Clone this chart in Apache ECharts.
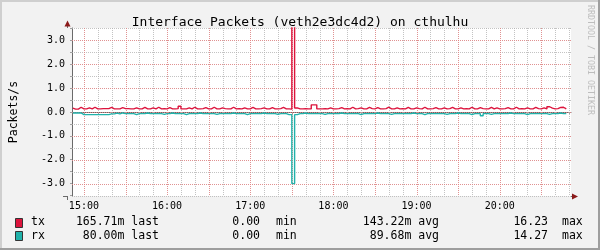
<!DOCTYPE html>
<html>
<head>
<meta charset="utf-8">
<script src="https://cdn.jsdelivr.net/npm/echarts@6/dist/echarts.min.js"></script>
<style>html,body{margin:0;padding:0;background:#F2F2F2;}#c{width:600px;height:250px;}</style>
</head>
<body>
<div id="c"></div>
<script>
// ---- data ----
const titleText = 'Interface Packets (veth2e3dc4d2) on cthulhu';
const yAxisTitle = 'Packets/s';
const sideText = 'RRDTOOL / TOBI OETIKER';
const sampleStart = 892;   // minutes after midnight of first sample (14:52)
const sampleStep = 2;      // minutes between samples
const txValues = [
 .16,.12,.12,.2,.13,.13,.17,.13,.2,.13,
 .13,.14,.14,.14,.19,.13,.13,.13,.18,.14,
 .14,.13,.13,.17,.13,.13,.19,.13,.13,.17,
 .13,.2,.13,.14,.13,.18,.13,.13,.14,.24,
 .13,.13,.17,.13,.2,.13,.13,.14,.18,.13,
 .13,.2,.13,.13,.17,.14,.13,.13,.2,.13,
 .14,.13,.17,.13,.13,.19,.13,.13,.14,.17,
 .13,.13,.18,.13,.13,.14,.19,.13,.13,.12,
 16.23,.17,.13,.13,.14,.13,.13,.3,.3,.13,
 .13,.14,.13,.17,.13,.13,.14,.18,.13,.14,
 .13,.2,.13,.14,.17,.13,.13,.19,.14,.13,
 .18,.13,.13,.14,.2,.13,.13,.17,.13,.14,
 .13,.19,.13,.13,.17,.14,.13,.2,.13,.13,
 .14,.18,.13,.13,.17,.13,.14,.19,.13,.13,
 .17,.13,.14,.13,.2,.13,.13,.18,.14,.13,
 .13,.19,.13,.17,.13,.13,.14,.18,.13,.13,
 .2,.13,.14,.13,.17,.13,.13,.19,.14,.13,
 .17,.13,.22,.16,.13,.14,.19,.2,.13
];
const rxValues = [
 .04,.04,.04,.04,.11,.11,.11,.11,.11,.11,
 .11,.11,.11,.11,.08,.08,.05,.08,.04,.07,
 .07,.07,.07,.11,.07,.07,.07,.04,.07,.07,
 .07,.07,.07,.1,.07,.07,.04,.07,.07,.07,
 .07,.11,.07,.07,.07,.07,.04,.07,.07,.07,
 .07,.07,.1,.07,.07,.07,.07,.07,.04,.07,
 .07,.07,.07,.11,.07,.07,.07,.07,.07,.04,
 .07,.07,.07,.07,.1,.07,.07,.07,.11,.11,
 3.0,.11,.07,.07,.04,.07,.07,.07,.07,.07,
 .07,.1,.07,.07,.07,.07,.07,.04,.07,.07,
 .07,.07,.07,.07,.11,.07,.07,.07,.07,.07,
 .04,.07,.07,.07,.07,.1,.07,.07,.07,.07,
 .07,.07,.07,.04,.07,.07,.07,.11,.07,.07,
 .07,.07,.07,.07,.07,.1,.07,.07,.07,.04,
 .07,.07,.07,.07,.11,.07,.07,.07,.16,.07,
 .07,.1,.07,.07,.07,.07,.07,.07,.04,.07,
 .07,.07,.07,.07,.11,.07,.07,.07,.07,.07,
 .07,.07,.1,.07,.07,.07,.04,.07,.07
];
const hourTicks = [900, 960, 1020, 1080, 1140, 1200];
const hourLabels = ['15:00','16:00','17:00','18:00','19:00','20:00'];
const minorGridX = [900,910,920,930,940,950,960,970,980,990,1000,1010,1020,1030,1040,1050,1060,1070,1080,1090,1100,1110,1120,1130,1140,1150,1160,1170,1180,1190,1200,1210,1220,1230,1240,1250];
const majorGridX = [900,930,960,990,1020,1050,1080,1110,1140,1170,1200,1230];
const minorGridY = [-3.5,-3,-2.5,-2,-1.5,-1,-0.5,0,0.5,1,1.5,2,2.5,3,3.5];
const majorGridY = [-3,-2,-1,0,1,2,3];
const yLabels = ['-3.0','-2.0','-1.0','0.0','1.0','2.0','3.0'];
const legendNames = ['tx','rx'];
const legendLast = ['165.71m','80.00m'];
const legendMin = ['0.00','0.00'];
const legendAvg = ['143.22m','89.68m'];
const legendMax = ['16.23','14.27'];
const colors = ['#DC143C','#20B2AA'];

// ---- build ----
const MONO = 'DejaVu Sans Mono';
const X0 = 891.4, X1 = 1251.4;
const txData = txValues.map((v, i) => [sampleStart + i * sampleStep, v]);
const rxData = rxValues.map((v, i) => [sampleStart + i * sampleStep, -v]);

const MINOR = 'rgba(175,175,175,0.75)';
const MAJOR = 'rgba(240,120,120,0.65)';

function vGrid(color) {
  return function (params, api) {
    const cs = params.coordSys;
    const x = Math.round(api.coord([api.value(0), 0])[0]) + 0.5;
    return { type: 'line', silent: true,
      shape: { x1: x, y1: cs.y, x2: x, y2: cs.y + cs.height },
      style: { stroke: color, lineWidth: 1, lineDash: [1, 1] } };
  };
}
function hGrid(color) {
  return function (params, api) {
    const cs = params.coordSys;
    const y = Math.round(api.coord([X0, api.value(1)])[1]) + 0.5;
    return { type: 'line', silent: true,
      shape: { x1: cs.x, y1: y, x2: cs.x + cs.width, y2: y },
      style: { stroke: color, lineWidth: 1, lineDash: [1, 1] } };
  };
}

const chart = echarts.init(document.getElementById('c'), null, { renderer: 'canvas' });

const legendGraphics = [];
const rowY = [222.5, 236];
const txtStyle = (t, x, y, align) => ({
  type: 'text', x: x, y: y, silent: true,
  style: { text: t, fill: '#000', font: '11.5px "' + MONO + '"', textAlign: align, textVerticalAlign: 'middle' }
});
legendNames.forEach((n, k) => {
  const y = rowY[k];
  legendGraphics.push({ type: 'rect', silent: true, shape: { x: 15.5, y: Math.round(y) - 4.5, width: 7, height: 9 },
    style: { fill: colors[k], stroke: '#333', lineWidth: 1 } });
  legendGraphics.push(txtStyle(n, 31, y, 'left'));
  legendGraphics.push(txtStyle(legendLast[k] + ' last', 159, y, 'right'));
  legendGraphics.push(txtStyle(legendMin[k], 260, y, 'right'));
  legendGraphics.push(txtStyle('min', 276, y, 'left'));
  legendGraphics.push(txtStyle(legendAvg[k] + ' avg', 439, y, 'right'));
  legendGraphics.push(txtStyle(legendMax[k], 548, y, 'right'));
  legendGraphics.push(txtStyle('max', 562, y, 'left'));
});

const option = {
  backgroundColor: '#F2F2F2',
  animation: false,
  title: {
    text: titleText, left: 'center', top: 11,
    textStyle: { fontFamily: MONO, fontSize: 13, fontWeight: 'normal', color: '#000' }
  },
  grid: { left: 67, right: 29, top: 28, bottom: 54, containLabel: false,
    show: true, backgroundColor: '#FFFFFF', borderWidth: 0 },
  xAxis: {
    type: 'value', min: X0, max: X1,
    splitLine: { show: false },
    axisLine: { show: true, lineStyle: { color: '#6A6A6A', width: 1 } },
    axisTick: { show: true, customValues: minorGridX, length: 2, lineStyle: { color: '#A0A0A0' } },
    axisLabel: {
      customValues: hourTicks, margin: 5,
      fontFamily: MONO, fontSize: 10, color: '#000',
      formatter: v => hourLabels[hourTicks.indexOf(v)] || ''
    }
  },
  yAxis: {
    type: 'value', min: -3.52, max: 3.52,
    name: yAxisTitle, nameLocation: 'middle', nameRotate: 90, nameGap: 52,
    nameTextStyle: { fontFamily: MONO, fontSize: 11.5, color: '#000' },
    splitLine: { show: false },
    axisLine: { show: true, lineStyle: { color: '#6A6A6A', width: 1 } },
    axisTick: { show: true, customValues: minorGridY, length: 2, lineStyle: { color: '#A0A0A0' } },
    axisLabel: {
      customValues: majorGridY, margin: 7,
      fontFamily: MONO, fontSize: 10, color: '#000',
      formatter: v => yLabels[majorGridY.indexOf(v)] || ''
    }
  },
  series: [
    { type: 'custom', z: 1, silent: true, renderItem: vGrid(MINOR), data: minorGridX.map(v => [v, 0]), encode: { x: 0, y: 1 }, clip: false },
    { type: 'custom', z: 1, silent: true, renderItem: hGrid(MINOR), data: minorGridY.map(v => [X0, v]), encode: { x: 0, y: 1 }, clip: false },
    { type: 'custom', z: 2, silent: true, renderItem: vGrid(MAJOR), data: majorGridX.map(v => [v, 0]), encode: { x: 0, y: 1 }, clip: false },
    { type: 'custom', z: 2, silent: true, renderItem: hGrid(MAJOR), data: majorGridY.map(v => [X0, v]), encode: { x: 0, y: 1 }, clip: false },
    { name: 'rx', type: 'line', z: 5, step: 'start', showSymbol: false, symbol: 'none', clip: true,
      data: rxData, lineStyle: { color: colors[1], width: 1.4 } },
    { name: 'tx', type: 'line', z: 6, step: 'start', showSymbol: false, symbol: 'none', clip: true,
      data: txData, lineStyle: { color: colors[0], width: 1.4 } }
  ],
  graphic: [
    // frame
    { type: 'rect', silent: true, shape: { x: 0, y: 0, width: 600, height: 2 }, style: { fill: '#CFCFCF' } },
    { type: 'rect', silent: true, shape: { x: 0, y: 0, width: 2, height: 250 }, style: { fill: '#CFCFCF' } },
    { type: 'rect', silent: true, shape: { x: 0, y: 248, width: 600, height: 2 }, style: { fill: '#9E9E9E' } },
    { type: 'rect', silent: true, shape: { x: 598, y: 0, width: 2, height: 250 }, style: { fill: '#9E9E9E' } },
    // axis extensions & arrows
    { type: 'line', silent: true, shape: { x1: 67.5, y1: 28, x2: 67.5, y2: 23 }, style: { stroke: '#6A6A6A', lineWidth: 1 } },
    { type: 'line', silent: true, shape: { x1: 67.5, y1: 196, x2: 67.5, y2: 200 }, style: { stroke: '#6A6A6A', lineWidth: 1 } },
    { type: 'line', silent: true, shape: { x1: 63, y1: 196.5, x2: 67, y2: 196.5 }, style: { stroke: '#6A6A6A', lineWidth: 1 } },
    { type: 'line', silent: true, shape: { x1: 571, y1: 196.5, x2: 575, y2: 196.5 }, style: { stroke: '#6A6A6A', lineWidth: 1 } },
    { type: 'polygon', silent: true, shape: { points: [[64.5, 26.5], [70.5, 26.5], [67.5, 20.5]] }, style: { fill: '#8B1A1A' } },
    { type: 'polygon', silent: true, shape: { points: [[572, 193.5], [572, 199.5], [578, 196.5]] }, style: { fill: '#8B1A1A' } },
    // side text
    { type: 'text', silent: true, x: 590.5, y: 60, rotation: -Math.PI / 2,
      style: { text: sideText, fill: '#BDBDBD', font: '8.3px "' + MONO + '"', textAlign: 'center', textVerticalAlign: 'middle' } }
  ].concat(legendGraphics)
};
chart.setOption(option);
</script>
</body>
</html>
